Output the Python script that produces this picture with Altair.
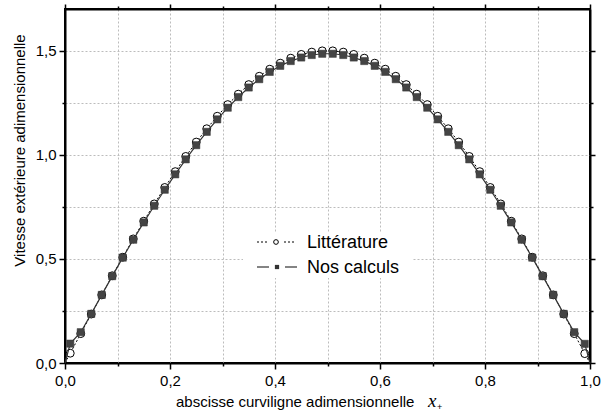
import altair as alt
import pandas as pd

# Abscissa of the plotted points
x_pts = [0.01, 0.03, 0.05, 0.07, 0.09, 0.11, 0.13, 0.15, 0.17, 0.19,
         0.21, 0.23, 0.25, 0.27, 0.29, 0.31, 0.33, 0.35, 0.37, 0.39,
         0.41, 0.43, 0.45, 0.47, 0.49, 0.51, 0.53, 0.55, 0.57, 0.59,
         0.61, 0.63, 0.65, 0.67, 0.69, 0.71, 0.73, 0.75, 0.77, 0.79,
         0.81, 0.83, 0.85, 0.87, 0.89, 0.91, 0.93, 0.95, 0.97, 0.99]

# Littérature (open circles, dotted line)
lit = [0.047, 0.141, 0.235, 0.327, 0.419, 0.508, 0.596, 0.681, 0.764, 0.843,
       0.919, 0.992, 1.061, 1.125, 1.185, 1.241, 1.291, 1.337, 1.377, 1.411,
       1.440, 1.464, 1.482, 1.493, 1.499, 1.499, 1.493, 1.482, 1.464, 1.440,
       1.411, 1.377, 1.337, 1.291, 1.241, 1.185, 1.125, 1.061, 0.992, 0.919,
       0.843, 0.764, 0.681, 0.596, 0.508, 0.419, 0.327, 0.235, 0.141, 0.045]

# Nos calculs (filled squares, solid line)
nos = [0.093, 0.148, 0.236, 0.327, 0.417, 0.506, 0.592, 0.675, 0.755, 0.832,
       0.906, 0.978, 1.046, 1.110, 1.170, 1.226, 1.277, 1.323, 1.363, 1.398,
       1.427, 1.450, 1.467, 1.479, 1.485, 1.485, 1.479, 1.467, 1.450, 1.427,
       1.398, 1.363, 1.323, 1.277, 1.226, 1.170, 1.110, 1.046, 0.978, 0.906,
       0.832, 0.755, 0.675, 0.592, 0.506, 0.417, 0.327, 0.236, 0.148, 0.092]

# End points of both curves
x_ends = [0.0, 1.0]
y_ends = [0.0, 0.0]

x_ticks = [0.0, 0.1, 0.2, 0.3, 0.4, 0.5, 0.6, 0.7, 0.8, 0.9, 1.0]
y_ticks = [0.0, 0.25, 0.5, 0.75, 1.0, 1.25, 1.5]

legend_labels = ["Littérature", "Nos calculs"]
y_title = "Vitesse extérieure adimensionnelle"
x_title = "abscisse curviligne adimensionnelle"

FONT = "Liberation Sans"

pts = pd.DataFrame({"x": x_pts, "lit": lit, "nos": nos})
line_df = pd.DataFrame({
    "x": [x_ends[0]] + x_pts + [x_ends[1]],
    "lit": [y_ends[0]] + lit + [y_ends[1]],
    "nos": [y_ends[0]] + nos + [y_ends[1]],
})

xscale = alt.Scale(domain=[0, 1], nice=False, zero=False)
yscale = alt.Scale(domain=[0, 1.7], nice=False, zero=False)

x_major = "abs(round(datum.value*10)%2)==0"
y_major = "abs(round(datum.value*4)%2)==0"

x_axis = alt.Axis(
    values=x_ticks, title=None, grid=True, gridColor="#bcbcbc", gridDash=[2, 2], gridWidth=1,
    domainColor="black", domainWidth=2, tickColor="black", tickWidth=1.5,
    tickSize={"condition": {"test": x_major, "value": 6}, "value": 3},
    labelExpr=f"{x_major} ? replace(format(datum.value,'.1f'),'.',',') : ''",
    labelFont=FONT, labelFontSize=15, labelColor="black", labelPadding=4, labelFlush=False,
)
y_axis = alt.Axis(
    values=y_ticks, title=y_title, grid=True, gridColor="#bcbcbc", gridDash=[2, 2], gridWidth=1,
    domainColor="black", domainWidth=2, tickColor="black", tickWidth=1.5,
    tickSize={"condition": {"test": y_major, "value": 6}, "value": 3},
    labelExpr=f"{y_major} ? replace(format(datum.value,'.1f'),'.',',') : ''",
    labelFont=FONT, labelFontSize=15, labelColor="black", labelPadding=3, labelFlush=False,
    titleFont=FONT, titleFontSize=15, titleFontWeight="normal", titleColor="black",
    titleAngle=-90, titleX=-46, titleY=141, titleAlign="center", titleBaseline="middle",
)
x_axis_top = alt.Axis(
    orient="top", values=x_ticks, title=None, labels=False, grid=False,
    domainColor="black", domainWidth=2, tickColor="black", tickWidth=1.5,
    tickSize={"condition": {"test": x_major, "value": 5}, "value": 3},
)
y_axis_right = alt.Axis(
    orient="right", values=y_ticks, title=None, labels=False, grid=False,
    domainColor="black", domainWidth=2, tickColor="black", tickWidth=1.5,
    tickSize={"condition": {"test": y_major, "value": 5}, "value": 3},
)

base_line = alt.Chart(line_df)
base_pts = alt.Chart(pts)

# layer carrying the main (bottom/left) axes
lit_line = base_line.mark_line(color="black", strokeWidth=1, strokeDash=[2, 2]).encode(
    x=alt.X("x:Q", scale=xscale, axis=x_axis),
    y=alt.Y("lit:Q", scale=yscale, axis=y_axis),
)
# invisible layer carrying top/right axes
frame = base_line.mark_line(opacity=0).encode(
    x=alt.X("x:Q", scale=xscale, axis=x_axis_top),
    y=alt.Y("lit:Q", scale=yscale, axis=y_axis_right),
)
lit_pts = base_pts.mark_point(shape="circle", filled=True, fill="white", stroke="black",
                              strokeWidth=1, size=62, opacity=1).encode(
    x=alt.X("x:Q", scale=xscale, axis=None),
    y=alt.Y("lit:Q", scale=yscale, axis=None),
)
nos_line = base_line.mark_line(color="#333333", strokeWidth=1.2).encode(
    x=alt.X("x:Q", scale=xscale, axis=None),
    y=alt.Y("nos:Q", scale=yscale, axis=None),
)
nos_pts = base_pts.mark_point(shape="square", filled=True, fill="#444444", stroke="#333333",
                              strokeWidth=0.5, size=52, opacity=1).encode(
    x=alt.X("x:Q", scale=xscale, axis=None),
    y=alt.Y("nos:Q", scale=yscale, axis=None),
)

one = pd.DataFrame({"k": [0]})
# legend box
leg_box = alt.Chart(one).mark_rect(fill="white").encode(
    x=alt.value(178), x2=alt.value(348), y=alt.value(223), y2=alt.value(269))
leg_l1a = alt.Chart(one).mark_rule(color="black", strokeWidth=1, strokeDash=[2, 2]).encode(
    x=alt.value(192), x2=alt.value(203), y=alt.value(233))
leg_l1b = alt.Chart(one).mark_rule(color="black", strokeWidth=1, strokeDash=[2, 2]).encode(
    x=alt.value(219), x2=alt.value(230), y=alt.value(233))
leg_p1 = alt.Chart(one).mark_point(shape="circle", filled=True, fill="white", stroke="black",
                                   strokeWidth=1, size=22, opacity=1).encode(
    x=alt.value(211), y=alt.value(233))
leg_l2a = alt.Chart(one).mark_rule(color="#333333", strokeWidth=1.2).encode(
    x=alt.value(192), x2=alt.value(204), y=alt.value(258))
leg_l2b = alt.Chart(one).mark_rule(color="#333333", strokeWidth=1.2).encode(
    x=alt.value(220), x2=alt.value(232), y=alt.value(258))
leg_p2 = alt.Chart(one).mark_point(shape="square", filled=True, fill="#333333",
                                   size=18, opacity=1).encode(
    x=alt.value(212), y=alt.value(258))
leg_t1 = alt.Chart(one).mark_text(text=legend_labels[0], font=FONT, fontSize=18, align="left",
                                  baseline="middle", color="black").encode(
    x=alt.value(242), y=alt.value(234))
leg_t2 = alt.Chart(one).mark_text(text=legend_labels[1], font=FONT, fontSize=18, align="left",
                                  baseline="middle", color="black").encode(
    x=alt.value(242), y=alt.value(259))

# x-axis title with italic x and subscript +
xt_main = alt.Chart(one).mark_text(text=x_title, font=FONT, fontSize=15, align="left",
                                   baseline="middle", color="black").encode(
    x=alt.value(111), y=alt.value(393))
xt_x = alt.Chart(one).mark_text(text="x", font="Liberation Serif", fontStyle="italic", fontSize=19,
                                align="left", baseline="middle", color="black").encode(
    x=alt.value(363), y=alt.value(392))
xt_plus = alt.Chart(one).mark_text(text="+", font=FONT, fontSize=9, align="left",
                                   baseline="middle", color="black").encode(
    x=alt.value(372), y=alt.value(398))

chart = alt.layer(
    lit_line, frame, lit_pts, nos_line, nos_pts,
    leg_box, leg_l1a, leg_l1b, leg_p1, leg_l2a, leg_l2b, leg_p2, leg_t1, leg_t2,
    xt_main, xt_x, xt_plus,
).resolve_axis(x="independent", y="independent").properties(
    width=525, height=354,
    autosize=alt.AutoSizeParams(type="none"),
    padding={"left": 65, "top": 9, "right": 11, "bottom": 49},
    background="white",
).configure_view(stroke="black", strokeWidth=2)

chart.save("out.html", embed_options={"renderer": "svg", "actions": False})
